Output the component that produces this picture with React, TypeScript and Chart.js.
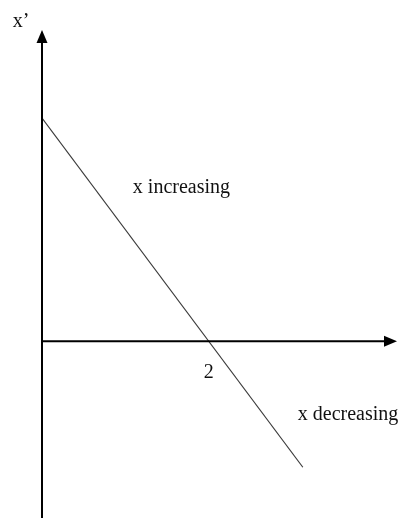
import React, { useEffect, useRef } from "react";
import { Chart, registerables } from "chart.js";

Chart.register(...registerables);

// Line x' vs x (endpoints)
const lineX = [0, 3.13];
const lineY = [4, -2.26];

// Axis ranges
const xRange = [0, 4.26];
const yRange = [-3.17, 5.58];

// Tick label on the x axis
const tickValues = [2];
const tickLabels = ["2"];

// Annotations: [text, x, y]
const noteTexts = ["x increasing", "x decreasing", "x’"];
const noteX = [1.09, 3.07, -0.35];
const noteY = [2.65, -1.42, 5.63];

const FONT = "20px 'Liberation Serif', 'Times New Roman', serif";

const axesPlugin = {
  id: "arrowAxes",
  afterDraw(chart: any) {
    const { ctx, scales } = chart;
    const xs = scales.x;
    const ys = scales.y;
    const x0 = xs.getPixelForValue(0);
    const y0 = ys.getPixelForValue(0);
    const xEnd = xs.getPixelForValue(xRange[1]);
    const yTop = ys.getPixelForValue(yRange[1]);
    const yBot = ys.getPixelForValue(yRange[0]);
    ctx.save();
    ctx.strokeStyle = "#000";
    ctx.fillStyle = "#000";
    ctx.lineWidth = 2;
    // y axis
    ctx.beginPath();
    ctx.moveTo(x0, yBot);
    ctx.lineTo(x0, yTop + 10);
    ctx.stroke();
    ctx.beginPath();
    ctx.moveTo(x0, yTop);
    ctx.lineTo(x0 - 5.5, yTop + 13);
    ctx.lineTo(x0 + 5.5, yTop + 13);
    ctx.closePath();
    ctx.fill();
    // x axis
    ctx.beginPath();
    ctx.moveTo(x0, y0);
    ctx.lineTo(xEnd - 10, y0);
    ctx.stroke();
    ctx.beginPath();
    ctx.moveTo(xEnd, y0);
    ctx.lineTo(xEnd - 13, y0 - 5.5);
    ctx.lineTo(xEnd - 13, y0 + 5.5);
    ctx.closePath();
    ctx.fill();
    // tick labels
    ctx.font = FONT;
    ctx.fillStyle = "#111";
    ctx.textAlign = "center";
    ctx.textBaseline = "alphabetic";
    tickValues.forEach((v, i) => {
      ctx.fillText(tickLabels[i], xs.getPixelForValue(v), y0 + 37);
    });
    // notes
    ctx.textAlign = "left";
    noteTexts.forEach((t, i) => {
      ctx.fillText(t, xs.getPixelForValue(noteX[i]), ys.getPixelForValue(noteY[i]));
    });
    ctx.restore();
  },
};

export default function App() {
  const ref = useRef<HTMLCanvasElement>(null);
  useEffect(() => {
    if (!ref.current) return;
    const chart = new Chart(ref.current, {
      type: "scatter",
      data: {
        datasets: [
          {
            data: lineX.map((x, i) => ({ x, y: lineY[i] })),
            showLine: true,
            borderColor: "#3a3a3a",
            borderWidth: 1.2,
            pointRadius: 0,
            fill: false,
          },
        ],
      },
      options: {
        animation: false,
        responsive: false,
        devicePixelRatio: 1,
        layout: { padding: { left: 42, right: 10, top: 30, bottom: 0 } },
        plugins: { legend: { display: false }, tooltip: { enabled: false } },
        scales: {
          x: { type: "linear", min: xRange[0], max: xRange[1], display: false },
          y: { type: "linear", min: yRange[0], max: yRange[1], display: false },
        },
      },
      plugins: [axesPlugin],
    });
    return () => chart.destroy();
  }, []);
  return (
    <div style={{ position: "fixed", left: 0, top: 0, width: 407, height: 518, background: "#fff" }}>
      <canvas ref={ref} width={407} height={518} />
    </div>
  );
}
